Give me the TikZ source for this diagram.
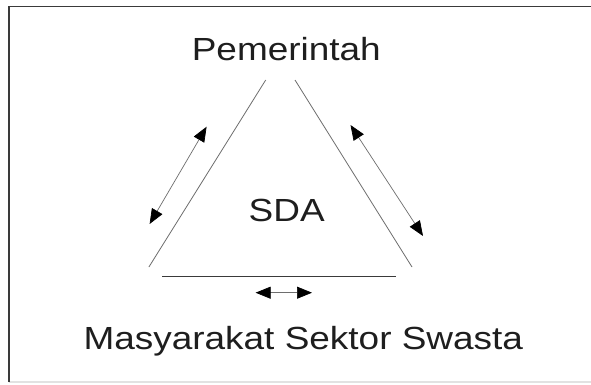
\documentclass[tikz,border=0pt]{standalone}
\usepackage{fontspec}
\setmainfont{Liberation Sans}
\usepackage{graphicx}
\usetikzlibrary{arrows.meta}
\definecolor{framedark}{HTML}{3A3A3A}
\definecolor{framelight}{HTML}{E2E2E2}
\definecolor{edgegray}{HTML}{6E6E6E}
\definecolor{textdark}{HTML}{1E1E1E}
\tikzset{
  lbl/.style={anchor=base, inner sep=0pt, text=textdark, font=\fontsize{32}{36}\selectfont},
  edge/.style={draw=edgegray, line width=0.8pt},
  flow/.style={draw=edgegray, line width=0.7pt, {Triangle[length=15pt 0,width=12pt 0,color=black,fill=black]}-{Triangle[length=15pt 0,width=12pt 0,color=black,fill=black]}}
}
\newcommand{\wide}[1]{\scalebox{1.155}[1]{#1}}
\begin{document}
\begin{tikzpicture}[x=1pt,y=-1pt]
\useasboundingbox (0,0) rectangle (591,384);
\fill[white] (0,0) rectangle (591,384);
% frame
\coordinate (fTL) at (9,6.5);
\coordinate (fTR) at (591,6.5);
\coordinate (fBL) at (9,382);
\coordinate (fBR) at (591,382);
\draw[framelight, line width=1.2pt] (fBL) -- (fBR);
\draw[framedark, line width=1.6pt] (fBL) -- (fTL) -- (fTR);
% labels
\node[lbl] (P) at (286.3,60) {\wide{Pemerintah}};
\node[lbl] (S) at (286.7,221) {\wide{SDA}};
\node[lbl] (M) at (303.3,349.3) {\wide{Masyarakat Sektor Swasta}};
% triangle sides
\coordinate (l1) at (265.7,80);
\coordinate (l2) at (148.9,267);
\coordinate (r1) at (295,80);
\coordinate (r2) at (412,267);
\coordinate (b1) at (162,276);
\coordinate (b2) at (396,276);
\draw[edge] (l1) -- (l2);
\draw[edge] (r1) -- (r2);
\draw[edge, draw=framedark] (b1) -- (b2);
% arrows
\coordinate (la1) at (206.6,126.7);
\coordinate (la2) at (149.6,224);
\coordinate (ra1) at (350.5,125);
\coordinate (ra2) at (423,236);
\coordinate (ba1) at (255.6,292.7);
\coordinate (ba2) at (312,292.7);
\draw[flow] (la1) -- (la2);
\draw[flow] (ra1) -- (ra2);
\draw[flow] (ba1) -- (ba2);
\end{tikzpicture}
\end{document}
